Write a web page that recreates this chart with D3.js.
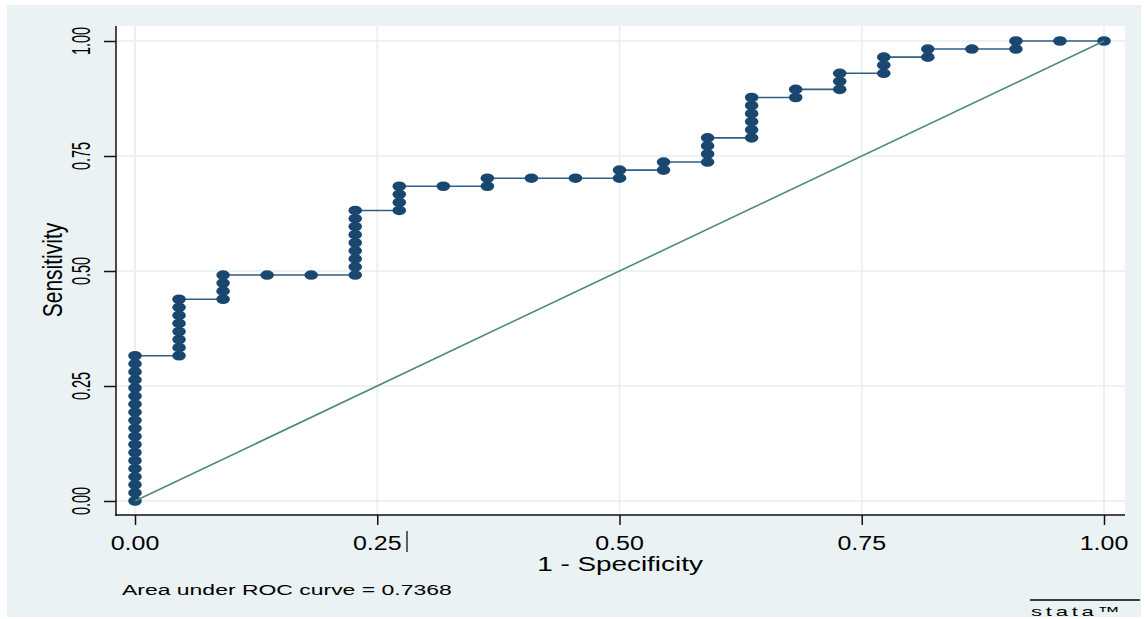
<!DOCTYPE html>
<html lang="en">
  <head>
    <meta charset="utf-8">
    <style>
      body { margin: 0; background: #ffffff; }
      text { font-family: "Liberation Sans", Arial, sans-serif; fill: #000; }
    </style>
    <script src="https://d3js.org/d3.v7.min.js"></script>
  </head>
  <body>
    <svg width="1145" height="619"></svg>
    <script>
      // ROC points, as counts: false positives out of 22, true positives out of 57
      var nNeg = 22;
      var nPos = 57;
      var fpCount = [
        0,0,0,0,0,0,0,0,0,0,0,0,0,0,0,0,0,0,0,
        1,1,1,1,1,1,1,1,
        2,2,2,2,
        3,
        4,
        5,5,5,5,5,5,5,5,5,
        6,6,6,6,
        7,
        8,8,
        9,
        10,
        11,11,
        12,12,
        13,13,13,13,
        14,14,14,14,14,14,
        15,15,
        16,16,16,
        17,17,17,
        18,18,
        19,
        20,20,
        21,
        22
      ];
      var tpCount = [
        0,1,2,3,4,5,6,7,8,9,10,11,12,13,14,15,16,17,18,
        18,19,20,21,22,23,24,25,
        25,26,27,28,
        28,
        28,
        28,29,30,31,32,33,34,35,36,
        36,37,38,39,
        39,
        39,40,
        40,
        40,
        40,41,
        41,42,
        42,43,44,45,
        45,46,47,48,49,50,
        50,51,
        51,52,53,
        53,54,55,
        55,56,
        56,
        56,57,
        57,
        57
      ];
      var tickVals = [0, 0.25, 0.5, 0.75, 1];
      var aucText = "Area under ROC curve = 0.7368";

      var points = fpCount.map(function (d, i) {
        return { x: d / nNeg, y: tpCount[i] / nPos };
      });

      var svg = d3.select("svg");

      // outer background
      svg.append("rect")
        .attr("x", 7).attr("y", 5)
        .attr("width", 1134).attr("height", 612)
        .attr("fill", "#eaf2f3");

      var plotL = 116, plotR = 1125, plotT = 26, plotB = 515;
      svg.append("rect")
        .attr("x", plotL).attr("y", plotT)
        .attr("width", plotR - plotL).attr("height", plotB - plotT)
        .attr("fill", "#ffffff");

      var x = d3.scaleLinear().domain([0, 1]).range([135, 1104]);
      var y = d3.scaleLinear().domain([0, 1]).range([501, 41]);

      // grid
      svg.append("g").selectAll("line")
        .data(tickVals).enter().append("line")
        .attr("x1", function (d) { return x(d); })
        .attr("x2", function (d) { return x(d); })
        .attr("y1", plotT).attr("y2", plotB)
        .attr("stroke", "#e6eef0").attr("stroke-width", 1.6);
      svg.append("g").selectAll("line")
        .data(tickVals).enter().append("line")
        .attr("y1", function (d) { return y(d); })
        .attr("y2", function (d) { return y(d); })
        .attr("x1", plotL).attr("x2", plotR)
        .attr("stroke", "#e6eef0").attr("stroke-width", 1.6);

      // axes
      var xAxis = svg.append("g")
        .attr("transform", "translate(0," + plotB + ")")
        .call(d3.axisBottom(x).tickValues(tickVals).tickSize(10).tickFormat(""));
      var yAxis = svg.append("g")
        .attr("transform", "translate(" + plotL + ",0)")
        .call(d3.axisLeft(y).tickValues(tickVals).tickSize(12).tickFormat(""));
      [xAxis, yAxis].forEach(function (a) {
        a.select(".domain").remove();
        a.selectAll(".tick line").attr("stroke", "#111").attr("stroke-width", 1.5);
      });
      svg.append("line")
        .attr("x1", plotL).attr("x2", plotL).attr("y1", plotT).attr("y2", plotB + 0.75)
        .attr("stroke", "#111").attr("stroke-width", 1.5);
      svg.append("line")
        .attr("x1", plotL - 0.75).attr("x2", plotR).attr("y1", plotB).attr("y2", plotB)
        .attr("stroke", "#111").attr("stroke-width", 1.5);

      var fmt = d3.format(".2f");

      // x tick labels
      svg.append("g").selectAll("g")
        .data(tickVals).enter().append("g")
        .attr("transform", function (d) {
          return "translate(" + x(d) + ",550) scale(1.22,1)";
        })
        .append("text")
        .attr("text-anchor", "middle")
        .attr("font-size", "20.5px")
        .text(function (d) { return fmt(d); });

      // y tick labels (rotated)
      svg.append("g").selectAll("g")
        .data(tickVals).enter().append("g")
        .attr("transform", function (d) {
          return "translate(90," + y(d) + ") scale(1.75,1) rotate(-90)";
        })
        .append("text")
        .attr("text-anchor", "middle")
        .attr("font-size", "14.5px")
        .text(function (d) { return fmt(d); });

      // axis titles
      svg.append("g")
        .attr("transform", "translate(620,571) scale(1.43,1)")
        .append("text")
        .attr("text-anchor", "middle")
        .attr("font-size", "19.5px")
        .text("1 - Specificity");
      svg.append("g")
        .attr("transform", "translate(62,270) scale(1.3,1) rotate(-90)")
        .append("text")
        .attr("text-anchor", "middle")
        .attr("font-size", "21px")
        .text("Sensitivity");

      // note
      svg.append("g")
        .attr("transform", "translate(122,595) scale(1.5,1)")
        .append("text")
        .attr("font-size", "15.3px")
        .text(aucText);

      // cursor mark after 0.25
      svg.append("line")
        .attr("x1", 407).attr("x2", 407).attr("y1", 531).attr("y2", 552)
        .attr("stroke", "#000").attr("stroke-width", 1.2);

      // ROC step line
      svg.append("path")
        .datum(points)
        .attr("fill", "none")
        .attr("stroke", "#2f5e86")
        .attr("stroke-width", 1.6)
        .attr("d", d3.line()
          .x(function (d) { return x(d.x); })
          .y(function (d) { return y(d.y); }));

      // markers
      svg.append("g").selectAll("ellipse")
        .data(points).enter().append("ellipse")
        .attr("cx", function (d) { return x(d.x); })
        .attr("cy", function (d) { return y(d.y); })
        .attr("rx", 6.8).attr("ry", 4.8)
        .attr("fill", "#1a476f");

      // reference line
      svg.append("line")
        .attr("x1", x(0)).attr("y1", y(0))
        .attr("x2", x(1)).attr("y2", y(1))
        .attr("stroke", "#4f8a76").attr("stroke-width", 1.6);

      // stata logo
      svg.append("line")
        .attr("x1", 1030).attr("x2", 1140).attr("y1", 600).attr("y2", 600)
        .attr("stroke", "#000").attr("stroke-width", 1.3);
      svg.append("g")
        .attr("transform", "translate(1031,616) scale(1.7,1)")
        .append("text")
        .attr("font-size", "13px")
        .attr("letter-spacing", "2.2px")
        .text("stata\u2122");
    </script>
  </body>
</html>
